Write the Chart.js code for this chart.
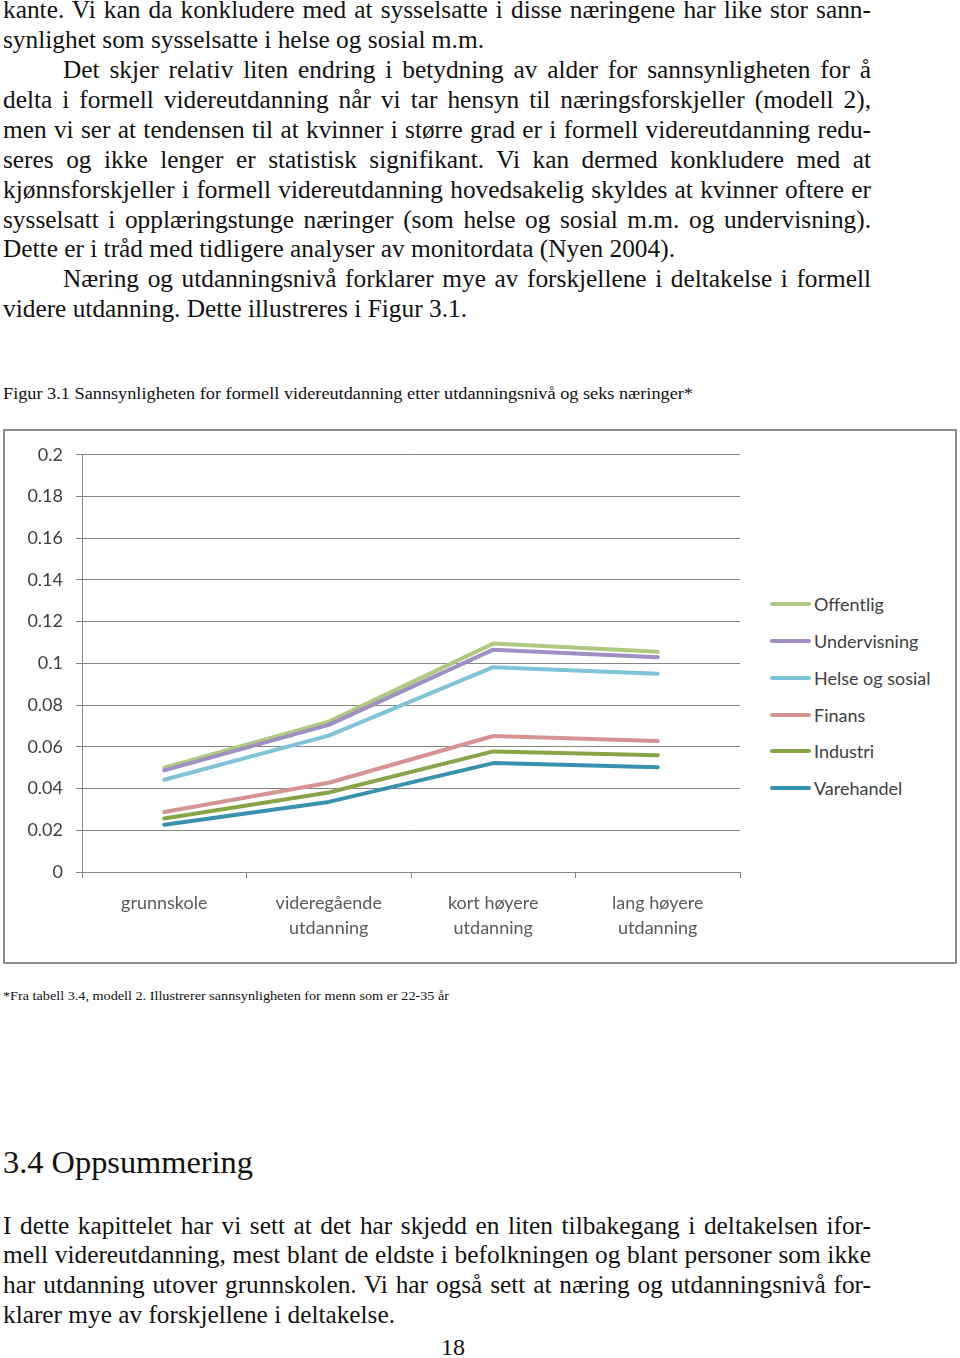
<!DOCTYPE html>
<html>
<head>
<meta charset="utf-8">
<script src="https://cdn.jsdelivr.net/npm/chart.js@4.4.1/dist/chart.umd.min.js"></script>
<style>
  html, body { margin: 0; padding: 0; background: #fff; }
  body { width: 960px; height: 1358px; position: relative; overflow: hidden; font-family: "Liberation Serif", "Times New Roman", serif; color: #111; }
  .ln { position: absolute; white-space: pre; line-height: 1; transform-origin: 0 0; }
  #box { position: absolute; left: 3px; top: 429px; width: 950px; height: 531px; border: 2px solid #8c8c8c; }
  #wrap { position: absolute; left: 0; top: 0; width: 760px; height: 520px; }
  #legenda { position: absolute; left: 0; top: 0; font-family: Lato, "Open Sans", sans-serif; font-size: 18px; color: #404040; }
  .leg { position: absolute; left: 765px; height: 20px; white-space: nowrap; }
  .leg span.sw { position: absolute; left: 0; top: 8px; width: 41px; height: 4px; border-radius: 2px; }
  .leg span.tx { position: absolute; left: 44px; top: -1px; }
</style>
</head>
<body>
<div id="tekst"></div>
<div id="box">
  <div id="wrap"><canvas id="graf" width="760" height="520"></canvas></div>
  <div id="legenda"></div>
</div>
<script>
// ---- dados do gráfico ----
const kategorier = [["grunnskole"], ["videregående", "utdanning"], ["kort høyere", "utdanning"], ["lang høyere", "utdanning"]];
const serier = ["Offentlig", "Undervisning", "Helse og sosial", "Finans", "Industri", "Varehandel"];
const offentlig    = [0.0500, 0.0721, 0.1095, 0.1056];
const undervisning = [0.0487, 0.0705, 0.1066, 0.1030];
const helseSosial  = [0.0442, 0.0654, 0.0982, 0.0950];
const finans       = [0.0288, 0.0428, 0.0652, 0.0628];
const industri     = [0.0256, 0.0381, 0.0578, 0.0560];
const varehandel   = [0.0227, 0.0336, 0.0522, 0.0502];
const yTicks = [0, 0.02, 0.04, 0.06, 0.08, 0.1, 0.12, 0.14, 0.16, 0.18, 0.2];
const farger = ["#afc983", "#9f8fc2", "#7ec3d8", "#d69392", "#87a546", "#3891af"];

/* ============================================================
   Texto da página (cada linha posicionada pela baseline)
============================================================ */
const W = 871;
const linhas = [
  // [texto, x, baseline, tamanho, modo]  modo: "j" = justificar, número = largura alvo
  ["kante. Vi kan da konkludere med at sysselsatte i disse næringene har like stor sann-", 3, 18.5, 25.35, "j"],
  ["synlighet som sysselsatte i helse og sosial m.m.", 3, 48.4, 25.35, 481],
  ["Det skjer relativ liten endring i betydning av alder for sannsynligheten for å", 63, 78.3, 25.35, "j"],
  ["delta i formell videreutdanning når vi tar hensyn til næringsforskjeller (modell 2),", 3, 108.2, 25.35, "j"],
  ["men vi ser at tendensen til at kvinner i større grad er i formell videreutdanning redu-", 3, 138.1, 25.35, "j"],
  ["seres og ikke lenger er statistisk signifikant. Vi kan dermed konkludere med at", 3, 168, 25.35, "j"],
  ["kjønnsforskjeller i formell videreutdanning hovedsakelig skyldes at kvinner oftere er", 3, 197.9, 25.35, "j"],
  ["sysselsatt i opplæringstunge næringer (som helse og sosial m.m. og undervisning).", 3, 227.8, 25.35, "j"],
  ["Dette er i tråd med tidligere analyser av monitordata (Nyen 2004).", 3, 257.7, 25.35, 672],
  ["Næring og utdanningsnivå forklarer mye av forskjellene i deltakelse i formell", 63, 287.6, 25.35, "j"],
  ["videre utdanning. Dette illustreres i Figur 3.1.", 3, 317.5, 25.35, 464],
  ["Figur 3.1 Sannsynligheten for formell videreutdanning etter utdanningsnivå og seks næringer*", 3, 400.5, 16.8, 690],
  ["*Fra tabell 3.4, modell 2. Illustrerer sannsynligheten for menn som er 22-35 år", 3, 1000.5, 13.3, 446],
  ["3.4 Oppsummering", 3, 1173.5, 32.4, 250],
  ["I dette kapittelet har vi sett at det har skjedd en liten tilbakegang i deltakelsen ifor-", 3, 1234, 25.35, "j"],
  ["mell videreutdanning, mest blant de eldste i befolkningen og blant personer som ikke", 3, 1263.7, 25.35, "j"],
  ["har utdanning utover grunnskolen. Vi har også sett at næring og utdanningsnivå for-", 3, 1293.4, 25.35, "j"],
  ["klarer mye av forskjellene i deltakelse.", 3, 1323.1, 25.35, 392],
  ["18", 441, 1355, 24, false]
];

const tekst = document.getElementById("tekst");
linhas.forEach(([t, x, base, fs, modo]) => {
  const el = document.createElement("div");
  el.className = "ln";
  el.textContent = t;
  el.style.fontSize = fs + "px";
  el.style.left = x + "px";
  el.style.top = (base - 0.8375 * fs) + "px";
  tekst.appendChild(el);
  const natural = el.getBoundingClientRect().width;
  if (modo === "j") {
    // espaçamento manual para justificar a linha até a margem direita
    const espacos = (t.match(/ /g) || []).length;
    el.style.wordSpacing = ((W - x - natural) / espacos) + "px";
  } else if (typeof modo === "number") {
    el.style.transform = `scaleX(${modo / natural})`;
  }
});

/* ============================================================
   Legenda manual
============================================================ */
const legTopp = [163, 200, 237, 274, 310, 347];
document.getElementById("legenda").innerHTML = serier.map((navn, i) => `
  <div class="leg" style="top:${legTopp[i]}px">
    <span class="sw" style="background:${farger[i]}"></span>
    <span class="tx">${navn}</span>
  </div>
`).join("");

/* ============================================================
   Gráfico de linhas
============================================================ */
const verdier = [offentlig, undervisning, helseSosial, finans, industri, varehandel];

new Chart(document.getElementById("graf"), {
  type: "line",
  data: {
    labels: kategorier,
    datasets: serier.map((navn, i) => ({
      label: navn,
      data: verdier[i],
      borderColor: farger[i],
      backgroundColor: farger[i],
      borderWidth: 4,
      borderCapStyle: "round",
      borderJoinStyle: "round",
      pointRadius: 0,
      tension: 0,
      order: 5 - i
    }))
  },
  options: {
    responsive: false,
    animation: false,
    layout: { padding: { left: 0, top: 22, right: 25, bottom: 0 } },
    plugins: {
      legend: { display: false },
      tooltip: { enabled: false }
    },
    scales: {
      x: {
        offset: true,
        afterFit: s => { s.height = 79; },
        grid: { offset: true, drawOnChartArea: false, drawTicks: true, tickLength: 6, color: "#868686", lineWidth: 1 },
        border: { color: "#868686", width: 1 },
        ticks: {
          color: "#5a5a5a",
          padding: 13,
          maxRotation: 0,
          autoSkip: false,
          font: { family: "Lato", size: 18, lineHeight: 1.36 }
        }
      },
      y: {
        min: yTicks[0],
        max: yTicks[yTicks.length - 1],
        afterFit: s => { s.width = 77; },
        afterBuildTicks: s => { s.ticks = yTicks.map(v => ({ value: v })); },
        grid: { color: "#868686", lineWidth: 1, tickLength: 6 },
        border: { color: "#868686", width: 1 },
        ticks: {
          color: "#404040",
          padding: 13,
          font: { family: "Lato", size: 18 },
          callback: v => String(+v.toFixed(2))
        }
      }
    }
  }
});
</script>
</body>
</html>
